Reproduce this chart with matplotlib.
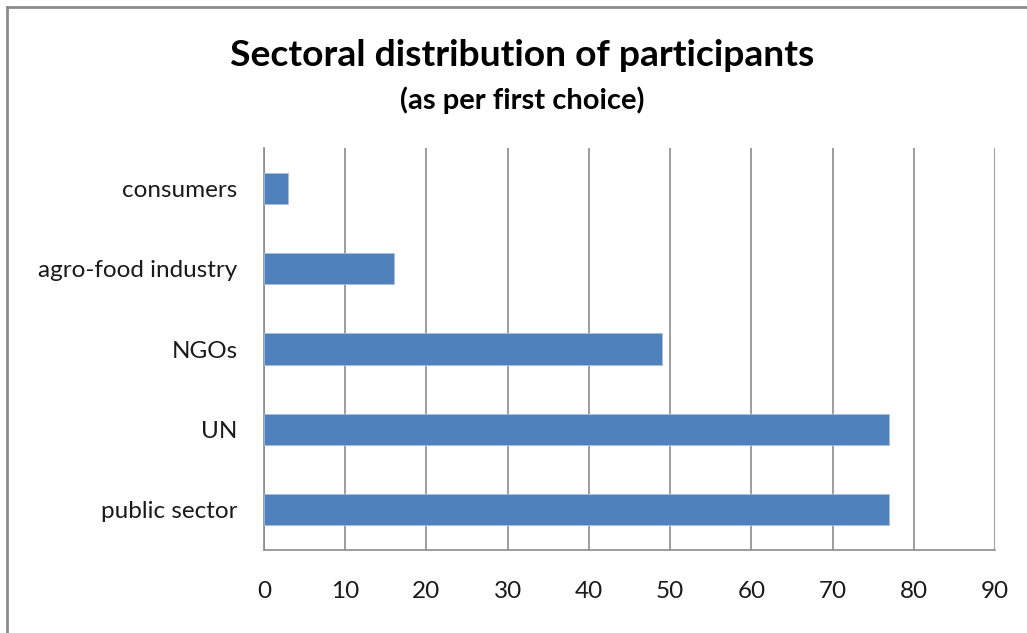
import numpy as np
import matplotlib.pyplot as plt
from matplotlib.lines import Line2D

sectors = ['public sector', 'UN', 'NGOs', 'agro-food industry', 'consumers']
counts = [77, 77, 49, 16, 3]
xticks = [0, 10, 20, 30, 40, 50, 60, 70, 80, 90]

plt.rcParams['font.family'] = ['Lato', 'DejaVu Sans']

W, H = 1027, 633
fig = plt.figure(figsize=(W / 100, H / 100), dpi=100)
ax = fig.add_axes([264 / W, 1 - 550 / H, (995 - 264) / W, (550 - 148) / H])

ind = np.arange(len(sectors))
ax.barh(ind, counts, height=0.39, color='#4f81bd', edgecolor='#a7bfde', linewidth=0.6, zorder=3)

ax.set_xlim(0, 90)
ax.set_ylim(-0.5, len(sectors) - 0.5)
ax.set_xticks(xticks)
ax.set_yticks(ind)
ax.set_yticklabels(sectors)
ax.xaxis.grid(True, color='#8c8c8c', linewidth=1.2, zorder=0)

for s in ['top', 'right']:
    ax.spines[s].set_visible(False)
for s in ['left', 'bottom']:
    ax.spines[s].set_color('#8c8c8c')
    ax.spines[s].set_linewidth(1.2)
ax.tick_params(axis='both', length=0, labelsize=17.5, colors='#1a1a1a')
ax.tick_params(axis='x', pad=22)
ax.tick_params(axis='y', pad=19)

fig.text(522 / W, 1 - 55 / H, 'Sectoral distribution of participants',
         ha='center', va='center', fontsize=26.8, fontweight='bold')
fig.text(522 / W, 1 - 100 / H, '(as per first choice)',
         ha='center', va='center', fontsize=21, fontweight='bold')

# outer chart border
fig.add_artist(Line2D([7 / W, 7 / W], [0, 1 - 7 / H], transform=fig.transFigure,
                      color='#8c8c8c', linewidth=2))
fig.add_artist(Line2D([7 / W, 1], [1 - 7 / H, 1 - 7 / H], transform=fig.transFigure,
                      color='#8c8c8c', linewidth=2))

plt.savefig('out.png')
